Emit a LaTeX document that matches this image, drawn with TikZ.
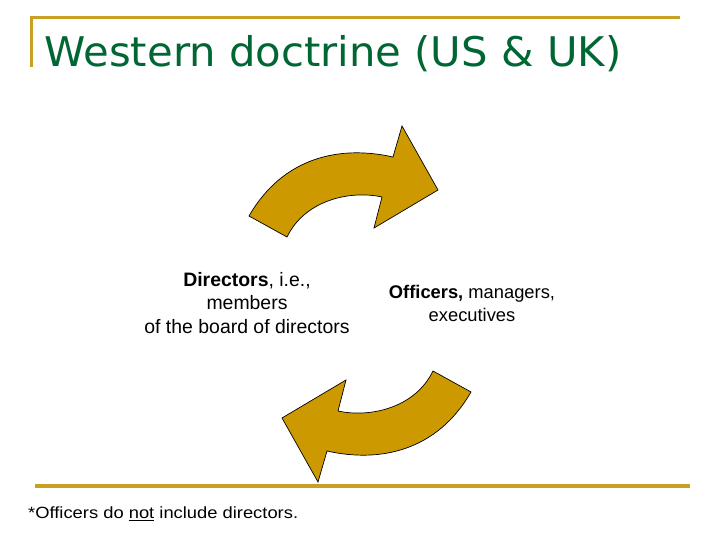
\documentclass[tikz,border=0pt]{standalone}
\usepackage{fontspec}
\setmainfont{Liberation Sans}
\newfontfamily\titlefont{DejaVu Sans}
\definecolor{titlegreen}{RGB}{0,102,51}
\definecolor{rulegold}{RGB}{201,160,36}
\definecolor{arrowgold}{RGB}{204,153,0}
\tikzset{
  rule/.style={draw=rulegold, line width=3bp},
  arrowshape/.style={fill=arrowgold, draw=black, line width=0.7bp, line join=miter},
  arrowpath/.style={insert path={(249,216) .. controls (283,157) and (340,145) .. (393,157)
     -- (402,126) -- (438,190) -- (374,228) -- (382,197)
     .. controls (350,190) and (305,200) .. (287,237) -- cycle}},
  bodytext/.style={inner sep=0pt, align=center, text=black}
}
\begin{document}
\begin{tikzpicture}[x=1bp,y=-1bp]
\useasboundingbox (0,0) rectangle (720,540);
\fill[white] (0,0) rectangle (720,540);
% frame rules
\coordinate (topL) at (29.5,18);
\coordinate (topR) at (680,18);
\coordinate (barT) at (31,18);
\coordinate (barB) at (31,67);
\coordinate (botL) at (35,486);
\coordinate (botR) at (690,486);
\draw[rule] (topL) -- (topR);
\draw[rule] (barT) -- (barB);
\draw[rule, line width=4bp] (botL) -- (botR);
% title
\node[anchor=base west, inner sep=0pt, text=titlegreen, font=\titlefont\fontsize{41}{49}\selectfont] (title) at (44.5,66.7) {\scalebox{1.022}[1]{Western doctrine (US \& UK)}};
% arrows
\draw[arrowshape, arrowpath];
\draw[arrowshape, rotate around={180:(360,304)}, arrowpath];
% texts (base anchor = baseline of last line)
\node[bodytext, anchor=base, font=\fontsize{19.5}{23.3}\selectfont] (dir) at (247,333) {\textbf{Directors}, i.e.,\\members\\of the board of directors};
\node[bodytext, anchor=base, font=\fontsize{18.4}{23.3}\selectfont] (off) at (472,321.7) {\textbf{Officers,} managers,\\executives};
\node[anchor=base west, inner sep=0pt, font=\fontsize{16.3}{20}\selectfont] (note) at (28,518.3) {\scalebox{1.13}[1]{*Officers do \underline{not} include directors.}};
\end{tikzpicture}
\end{document}
